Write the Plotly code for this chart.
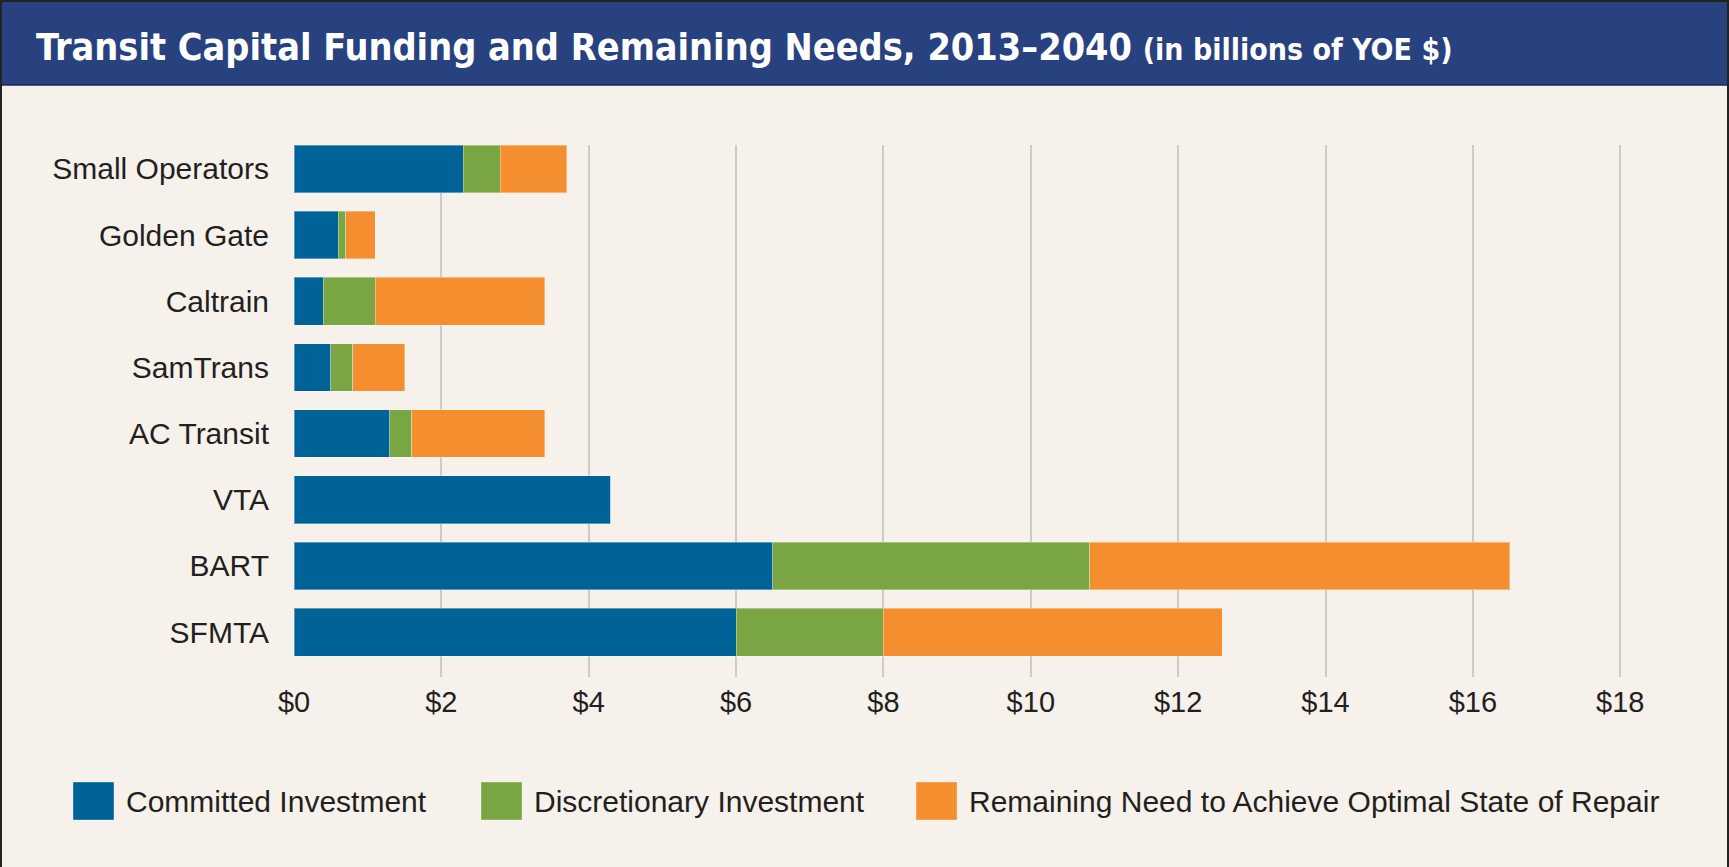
import plotly.graph_objects as go

# ---- data ----
operators = ["Small Operators", "Golden Gate", "Caltrain", "SamTrans",
             "AC Transit", "VTA", "BART", "SFMTA"]
committed = [2.3, 0.6, 0.4, 0.5, 1.3, 4.3, 6.5, 6.0]
discretionary = [0.5, 0.1, 0.7, 0.3, 0.3, 0.0, 4.3, 2.0]
remaining = [0.9, 0.4, 2.3, 0.7, 1.8, 0.0, 5.7, 4.6]
series_names = ["Committed Investment", "Discretionary Investment",
                "Remaining Need to Achieve Optimal State of Repair"]
series_colors = ["#006397", "#7aa543", "#f58e2f"]
x_ticks = [0, 2, 4, 6, 8, 10, 12, 14, 16, 18]
x_tick_labels = ["$" + str(v) for v in x_ticks]
title_main = "Transit Capital Funding and Remaining Needs, 2013–2040"
title_sub = "(in billions of YOE $)"

# ---- layout geometry (pixels) ----
W, H = 1729, 867
ML, MR, MT, MB = 294, 94, 145, 190
PW, PH = W - ML - MR, H - MT - MB

def px_x(px):
    return (px - ML) / PW

def px_y(py):
    return (H - MB - py) / PH

BG = "#f6f1eb"
TXT = "#231f20"
FONT = "Liberation Sans, Arial, sans-serif"
TITLE_FONT = "Liberation Sans Narrow, DejaVu Sans Condensed, Arial Narrow, sans-serif"

fig = go.Figure()
for name, vals, col in zip(series_names, [committed, discretionary, remaining], series_colors):
    fig.add_trace(go.Bar(
        y=operators, x=vals, name=name, orientation="h",
        marker=dict(color=col, line=dict(color="rgba(255,255,255,0.35)", width=1)),
        showlegend=False,
    ))

shapes = []
annotations = []

# title band
shapes.append(dict(type="rect", xref="paper", yref="paper", layer="below",
                   x0=px_x(0), x1=px_x(W), y0=px_y(0), y1=px_y(85),
                   fillcolor="#28417f", line=dict(width=0)))
shapes.append(dict(type="line", xref="paper", yref="paper",
                   x0=px_x(0), x1=px_x(W), y0=px_y(85), y1=px_y(85),
                   line=dict(color="#1c2a4a", width=1.5)))
# borders
shapes.append(dict(type="line", xref="paper", yref="paper",
                   x0=px_x(1), x1=px_x(1), y0=px_y(0), y1=px_y(H),
                   line=dict(color="#222222", width=2)))
shapes.append(dict(type="line", xref="paper", yref="paper",
                   x0=px_x(0), x1=px_x(W), y0=px_y(1), y1=px_y(1),
                   line=dict(color="#222222", width=2)))
shapes.append(dict(type="line", xref="paper", yref="paper",
                   x0=px_x(W - 1), x1=px_x(W - 1), y0=px_y(0), y1=px_y(H),
                   line=dict(color="#222222", width=2)))

annotations.append(dict(
    xref="paper", yref="paper", x=px_x(34), y=px_y(47),
    xanchor="left", yanchor="middle", showarrow=False,
    text="<b>" + title_main + "</b> <span style='font-size:30px'><b>" + title_sub + "</b></span>",
    font=dict(family=TITLE_FONT, size=37.5, color="white"),
))

# legend (manual, large swatches)
leg_swatch_x = [73, 481, 916]
for name, col, sx in zip(series_names, series_colors, leg_swatch_x):
    shapes.append(dict(type="rect", xref="paper", yref="paper",
                       x0=px_x(sx), x1=px_x(sx + 41), y0=px_y(782), y1=px_y(820),
                       fillcolor=col, line=dict(color="rgba(255,255,255,0.35)", width=1)))
    annotations.append(dict(
        xref="paper", yref="paper", x=px_x(sx + 51), y=px_y(802),
        xanchor="left", yanchor="middle", showarrow=False, text=name,
        font=dict(family=FONT, size=30, color=TXT),
    ))

fig.update_layout(
    width=W, height=H,
    barmode="stack", bargap=0.278,
    paper_bgcolor=BG, plot_bgcolor=BG,
    margin=dict(l=ML, r=MR, t=MT, b=MB, pad=0, autoexpand=False),
    font=dict(family=FONT, size=30, color=TXT),
    shapes=shapes, annotations=annotations,
    xaxis=dict(range=[0, 18.2], tickvals=x_ticks, ticktext=x_tick_labels,
               showgrid=True, gridcolor="#cdcac7", gridwidth=1.5,
               zeroline=False, showline=False, ticks="",
               ticklabelstandoff=5,
               tickfont=dict(family=FONT, size=29, color=TXT)),
    yaxis=dict(type="category", categoryorder="array", categoryarray=operators,
               range=[7.678, -0.361], showgrid=False, zeroline=False,
               showline=False, ticks="", ticklabelstandoff=24,
               tickfont=dict(family=FONT, size=30, color=TXT)),
)

fig.write_html("out.html", config={"displayModeBar": False},
               post_script="document.body.style.margin='0';document.body.style.overflow='hidden';")
